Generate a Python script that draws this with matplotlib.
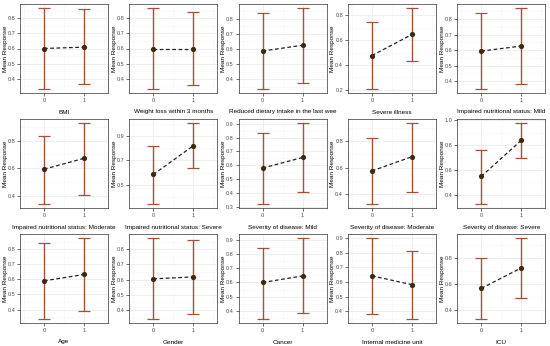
import numpy as np
import matplotlib
matplotlib.use("Agg")
import matplotlib.pyplot as plt
from matplotlib.ticker import MultipleLocator

plt.rcParams['font.family'] = ['Liberation Sans', 'DejaVu Sans']

# variable names (x-axis labels), as shown in the figure
labels = [
    "BMI", "Weight loss within 3 months", "Reduced dietary intake in the last wee",
    "Severe illness", "Impaired nutritional status: Mild",
    "Impaired nutritional status: Moderate", "Impaired nutritional status: Severe",
    "Severity of disease: Mild", "Severity of disease: Moderate", "Severity of disease: Severe",
    "Age", "Gender", "Cancer", "Internal medicine unit", "ICU",
]

# mean response at level 0 and level 1
mean0 = [0.600, 0.598, 0.587, 0.475, 0.594, 0.594, 0.584, 0.580, 0.574, 0.547, 0.590, 0.605, 0.600, 0.642, 0.565]
mean1 = [0.609, 0.598, 0.625, 0.646, 0.627, 0.672, 0.822, 0.657, 0.682, 0.838, 0.632, 0.618, 0.647, 0.582, 0.723]

# lower / upper ends of the error bars
low0 = [0.333, 0.333, 0.335, 0.205, 0.350, 0.344, 0.340, 0.322, 0.323, 0.325, 0.338, 0.342, 0.340, 0.382, 0.328]
up0 = [0.867, 0.867, 0.836, 0.745, 0.843, 0.836, 0.822, 0.834, 0.826, 0.763, 0.842, 0.873, 0.848, 0.900, 0.800]
low1 = [0.364, 0.360, 0.373, 0.428, 0.380, 0.407, 0.638, 0.410, 0.415, 0.694, 0.389, 0.377, 0.379, 0.348, 0.494]
up1 = [0.860, 0.838, 0.872, 0.860, 0.872, 0.926, 1.010, 0.905, 0.938, 0.978, 0.873, 0.860, 0.917, 0.815, 0.955]

# tick spacing per panel (and offset of the first tick)
steps = [0.1, 0.1, 0.1, 0.2, 0.1, 0.2, 0.2, 0.1, 0.2, 0.2, 0.1, 0.1, 0.1, 0.1, 0.2]
offsets = [0, 0, 0, 0, 0, 0, 0.1, 0, 0, 0, 0, 0, 0, 0, 0]

levels = [0, 1]
W, H = 550, 346
fig = plt.figure(figsize=(W / 100, H / 100), dpi=100)

stem_col = '#a0523a'
cap_col = '#c9473c'
grid_col = '#ebebeb'

for i, lab in enumerate(labels):
    r, c = divmod(i, 5)
    left = 20 + 109.3 * c
    top = 4 + 115 * r
    ax = fig.add_axes([left / W, 1 - (top + 89) / H, 88 / W, 89 / H])

    lo = [low0[i], low1[i]]
    hi = [up0[i], up1[i]]
    mu = [mean0[i], mean1[i]]
    yerr = [np.array(mu) - np.array(lo), np.array(hi) - np.array(mu)]

    ax.plot(levels, mu, ls=(0, (3, 2)), color='#222222', lw=0.9, zorder=3)
    eb = ax.errorbar(levels, mu, yerr=yerr, fmt='none', ecolor=stem_col,
                     elinewidth=1.0, capsize=4, capthick=0.9, zorder=2)
    for cl in eb[1]:
        cl.set_color(cap_col)
    ax.scatter(levels, mu, s=14, color='#3a2a12', zorder=4, linewidths=0)

    span = max(hi) - min(lo)
    ax.set_ylim(min(lo) - 0.05 * span, max(hi) + 0.05 * span)
    ax.set_xlim(-0.6, 1.6)
    ax.set_xticks(levels)
    ax.yaxis.set_major_locator(MultipleLocator(steps[i], offset=offsets[i]))
    ax.yaxis.set_minor_locator(MultipleLocator(steps[i] / 2, offset=offsets[i]))
    ax.xaxis.set_minor_locator(MultipleLocator(0.5))
    ax.grid(True, which='major', color=grid_col, lw=0.6)
    ax.grid(True, which='minor', color='#f5f5f5', lw=0.4)
    ax.set_axisbelow(True)
    ax.tick_params(which='both', length=2, width=0.5, color='#333333',
                   labelsize=4, labelcolor='#4d4d4d', pad=1.5)
    ax.tick_params(which='minor', length=0)
    for s in ax.spines.values():
        s.set_color('#333333')
        s.set_linewidth(0.5)
    ax.set_ylabel("Mean Response", fontsize=4.6, va='center')
    ax.yaxis.set_label_coords(-15 / 88, 0.5)
    ax.set_xlabel(lab, fontsize=4.6, va='center')
    ax.xaxis.set_label_coords(0.5, -19 / 89)

fig.savefig("out.png", dpi=100)
